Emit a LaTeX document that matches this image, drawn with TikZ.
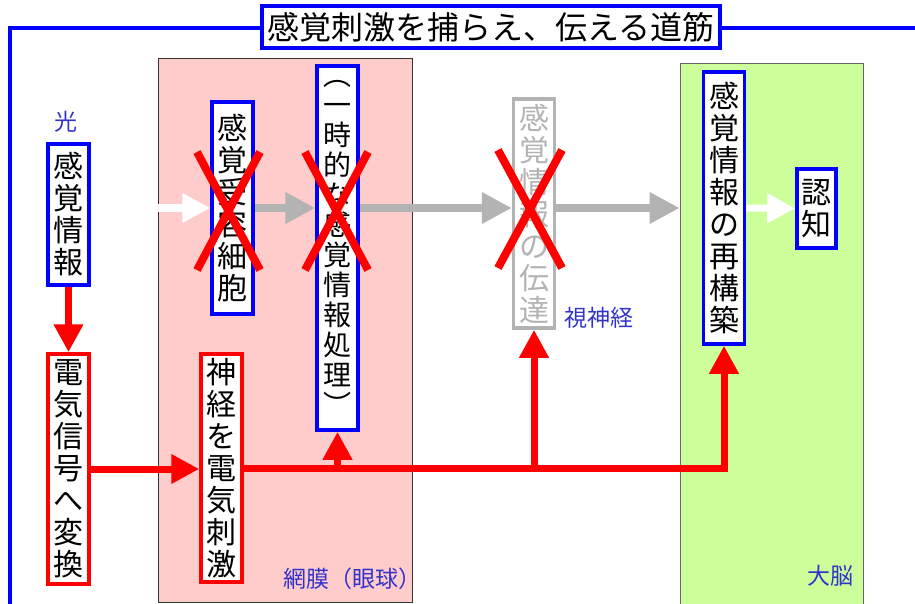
\documentclass[tikz,border=0pt]{standalone}
\usepackage{fontspec}
\setmainfont{Noto Sans CJK JP}
\usetikzlibrary{arrows.meta,calc}
\definecolor{bl}{HTML}{0000FF}
\definecolor{rd}{HTML}{FF0000}
\definecolor{gr}{HTML}{B3B3B3}
\definecolor{pinkc}{HTML}{FFCCCC}
\definecolor{greenc}{HTML}{CCFF99}
\definecolor{labc}{HTML}{3333CC}
\begin{document}
\begin{tikzpicture}[x=1pt,y=-1pt,
  vbox/.style={draw=bl, line width=3.5pt, fill=white, inner sep=0pt,
    minimum width=41pt, text width=32pt, align=center,
    font=\fontsize{30}{32}\selectfont},
  redbox/.style={vbox, draw=rd},
  graybox/.style={vbox, draw=gr, text=gr},
  region/.style={inner sep=0pt, line width=1pt},
  lab/.style={text=labc, inner sep=0pt, font=\fontsize{23}{25}\selectfont},
  redarr/.style={draw=rd, line width=7pt, -{Triangle[length=28pt,width=28pt]}},
  grayarr/.style={draw=gr, line width=7pt, -{Triangle[length=30pt,width=30pt]}},
  whitearr/.style={draw=white, line width=7pt, -{Triangle[length=28pt,width=28pt,fill=white]}},
  xline/.style={draw=rd, line width=8pt}]
\useasboundingbox (0,0) rectangle (915,604);
% regions
\node[region, draw=black!80, fill=pinkc, minimum width=254pt, minimum height=543pt] (retina) at (285,330.5) {};
\node[region, draw=black!60, fill=greenc, minimum width=183pt, minimum height=550pt] (brain) at (771.5,339) {};
% frame line
\draw[bl, line width=3.5pt] (915,28) -- (10,28) -- (10,604);
% title
\node[draw=bl, line width=4pt, fill=white, inner sep=0pt, minimum width=458pt, minimum height=42pt,
  font=\fontsize{32}{34}\selectfont] (title) at (491,27.5) {感覚刺激を捕らえ、伝える道筋};
% nodes
\node[vbox] (sense) at (68.5,214.5) [minimum height=141pt] {感\\覚\\情\\報};
\node[redbox] (elec) at (68.5,469) [minimum height=230pt] {電\\気\\信\\号\\へ\\変\\換};
\node[redbox] (nerve) at (221.5,468) [minimum height=228pt] {神\\経\\を\\電\\気\\刺\\激};
\node[vbox] (recep) at (232.5,208) [minimum height=212pt] {感\\覚\\受\\容\\細\\胞};
\node[vbox, font=\fontsize{28}{30}\selectfont] (temp) at (337.5,248) [minimum height=364pt] {︵\\一\\時\\的\\な\\感\\覚\\情\\報\\処\\理\\︶};
\node[graybox] (trans) at (534,213.5) [minimum height=229pt] {感\\覚\\情\\報\\の\\伝\\達};
\node[vbox] (recon) at (724,208) [minimum height=272pt] {感\\覚\\情\\報\\の\\再\\構\\築};
\node[vbox, minimum width=39pt] (cog) at (816.5,208.5) [minimum height=79pt] {認\\知};
% labels
\node[lab] (light) at (66,122) {光};
\node[lab] (optic) at (599,318) {視神経};
\node[lab] (retlab) at (352,579) {網膜（眼球）};
\node[lab] (brlab) at (830,576) {大脳};
% arrows
\draw[whitearr] (sense.east |- recep.west) -- (recep.west);
\draw[grayarr] (recep.east) -- (recep.east -| temp.west);
\draw[grayarr] (temp.east |- recep.east) -- (trans.west |- recep.east);
\draw[grayarr] (trans.east |- recep.east) -- (brain.west |- recep.east);
\draw[whitearr] (recon.east) -- (cog.west);
\draw[redarr] (sense.south) -- (elec.north);
\draw[redarr] (elec.east) -- (elec.east -| nerve.west);
\draw[redarr] (nerve.east) -| (recon.south);
\draw[redarr] (temp.south |- nerve.east) -- (temp.south);
\draw[redarr] (trans.south |- nerve.east) -- (trans.south);
% crosses
\draw[xline] (197,152) -- (260,270) (197,270) -- (260,152);
\draw[xline] (305,152) -- (368,270) (305,270) -- (368,152);
\draw[xline] (498,150) -- (562,268) (498,268) -- (562,150);
\end{tikzpicture}
\end{document}
